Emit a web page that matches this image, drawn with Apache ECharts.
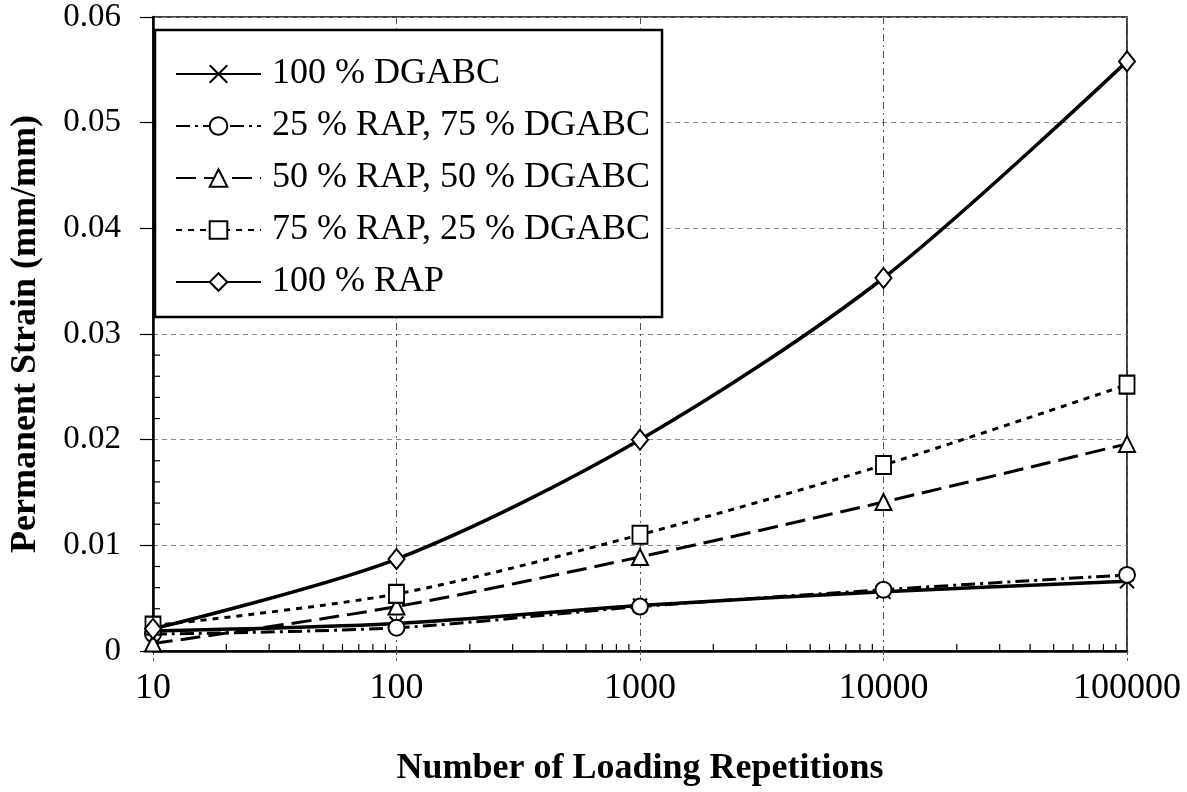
<!DOCTYPE html>
<html>
<head>
<meta charset="utf-8">
<script src="https://cdn.jsdelivr.net/npm/echarts@6/dist/echarts.min.js"></script>
<style>
  html, body { margin: 0; padding: 0; background: #fff; }
  #chart { width: 1187px; height: 792px; }
</style>
</head>
<body>
<div id="chart"></div>
<script>
// Loading repetitions (log scale)
const repetitions = [10, 100, 1000, 10000, 100000];

// Permanent strain (mm/mm) for each blend
const dgabc100 = [0.0019, 0.0026, 0.0043, 0.0056, 0.0066];
const rap25 = [0.0016, 0.0022, 0.0042, 0.0058, 0.0072];
const rap50 = [0.0007, 0.0042, 0.0089, 0.0141, 0.0196];
const rap75 = [0.0024, 0.0054, 0.0110, 0.0176, 0.0252];
const rap100 = [0.0021, 0.0087, 0.0200, 0.0353, 0.0558];

const seriesNames = [
  '100 % DGABC',
  '25 % RAP, 75 % DGABC',
  '50 % RAP, 50 % DGABC',
  '75 % RAP, 25 % DGABC',
  '100 % RAP'
];

const yTickValues = [0, 0.01, 0.02, 0.03, 0.04, 0.05, 0.06];
const yTickLabels = ['0', '0.01', '0.02', '0.03', '0.04', '0.05', '0.06'];

// Minor tick positions
const xMinorTicks = [
  20, 30, 40, 50, 60, 70, 80, 90,
  200, 300, 400, 500, 600, 700, 800, 900,
  2000, 3000, 4000, 5000, 6000, 7000, 8000, 9000,
  20000, 30000, 40000, 50000, 60000, 70000, 80000, 90000
];
const yMinorTicks = [
  0.002, 0.004, 0.006, 0.008, 0.012, 0.014, 0.016, 0.018,
  0.022, 0.024, 0.026, 0.028, 0.032, 0.034, 0.036, 0.038,
  0.042, 0.044, 0.046, 0.048, 0.052, 0.054, 0.056, 0.058
];

const FONT = '"Liberation Serif", "Times New Roman", serif';
const X_PATH = 'path://M0,0L10,10M10,0L0,10';

function pairs(vals) {
  return repetitions.map((x, i) => [x, vals[i]]);
}

function lineSeries(name, vals, symbol, symbolSize, dash, width) {
  return {
    name: name,
    type: 'line',
    data: pairs(vals),
    smooth: 0.3,
    symbol: symbol,
    symbolSize: symbolSize,
    showAllSymbol: true,
    lineStyle: { color: '#000', width: width, type: dash },
    itemStyle: { color: '#fff', borderColor: '#000', borderWidth: 2 },
    emphasis: { disabled: true },
    z: 3
  };
}

const tickData = xMinorTicks.map(v => [v, 0, 0]).concat(yMinorTicks.map(v => [10, v, 1]));

const chart = echarts.init(document.getElementById('chart'), null, { renderer: 'canvas' });

chart.setOption({
  animation: false,
  backgroundColor: '#fff',
  grid: {
    left: 153, right: 60, top: 17, bottom: 137,
    show: true, borderColor: '#000', borderWidth: 1.5, backgroundColor: 'transparent'
  },
  legend: {
    orient: 'vertical',
    left: 155, top: 30,
    padding: [26, 12, 17, 20],
    backgroundColor: '#fff',
    borderColor: '#000',
    borderWidth: 2.5,
    itemWidth: 85,
    itemHeight: 22,
    itemGap: 16,
    textStyle: { fontFamily: FONT, fontSize: 36, color: '#000', padding: [0, 0, 0, 6] },
    data: seriesNames
  },
  xAxis: {
    type: 'log',
    logBase: 10,
    min: 10,
    max: 100000,
    name: 'Number of Loading Repetitions',
    nameLocation: 'middle',
    nameGap: 100,
    nameTextStyle: { fontFamily: FONT, fontSize: 36, fontWeight: 'bold', color: '#000' },
    axisLine: { lineStyle: { color: '#000', width: 2.5 } },
    axisTick: { show: true, length: 10, lineStyle: { color: '#555', width: 1, type: [4, 3] } },
    axisLabel: {
      fontFamily: FONT, fontSize: 36, color: '#000', margin: 20,
      formatter: v => String(Math.round(v))
    },
    splitLine: { show: true, lineStyle: { color: '#555', width: 1, type: [7, 4, 2, 4] } }
  },
  yAxis: {
    type: 'value',
    min: 0,
    max: 0.06,
    interval: 0.01,
    name: 'Permanent Strain (mm/mm)',
    nameLocation: 'middle',
    nameGap: 109,
    nameTextStyle: { fontFamily: FONT, fontSize: 36, fontWeight: 'bold', color: '#000' },
    axisLine: { lineStyle: { color: '#000', width: 2.5 } },
    axisTick: { show: true, length: 13, lineStyle: { color: '#000', width: 1.2 } },
    axisLabel: {
      fontFamily: FONT, fontSize: 33, color: '#000', margin: 32,
      formatter: v => {
        const i = yTickValues.findIndex(t => Math.abs(t - v) < 1e-9);
        return i >= 0 ? yTickLabels[i] : '';
      }
    },
    splitLine: { show: true, lineStyle: { color: '#888', width: 1, type: [5, 4] } }
  },
  series: [
    lineSeries(seriesNames[0], dgabc100, X_PATH, [14, 14], 'solid', 3.5),
    lineSeries(seriesNames[1], rap25, 'circle', 16, [14, 5, 3, 5], 3),
    lineSeries(seriesNames[2], rap50, 'triangle', [16, 16], [20, 8], 3),
    lineSeries(seriesNames[3], rap75, 'rect', [15, 18], [6, 6], 3),
    lineSeries(seriesNames[4], rap100, 'diamond', [16, 20], 'solid', 3.5),
    {
      type: 'custom',
      silent: true,
      clip: false,
      z: 2,
      data: tickData,
      renderItem: function (params, api) {
        const p = api.coord([api.value(0), api.value(1)]);
        const onX = api.value(2) === 0;
        return {
          type: 'line',
          shape: onX
            ? { x1: p[0], y1: p[1], x2: p[0], y2: p[1] - 7 }
            : { x1: p[0], y1: p[1], x2: p[0] + 7, y2: p[1] },
          style: { stroke: '#000', lineWidth: 1.2 }
        };
      }
    }
  ]
});
</script>
</body>
</html>
